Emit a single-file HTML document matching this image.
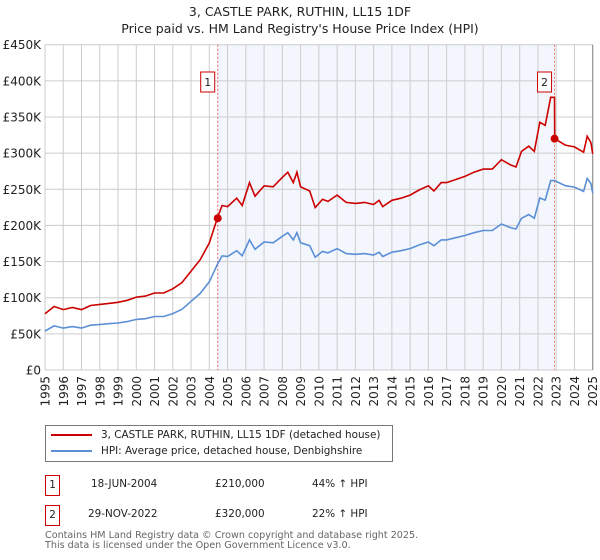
<!DOCTYPE html>
<html><head><meta charset="utf-8"><style>
body{margin:0;background:#fff;font-family:"DejaVu Sans","Liberation Sans",sans-serif;}
#wrap{position:relative;width:600px;height:560px;overflow:hidden}
</style></head><body><div id="wrap">
<svg id="c" width="600" height="560" style="position:absolute;left:0;top:0;font-family:'DejaVu Sans',sans-serif"></svg>
</div>
<script>
const hpiYears=[1995,1995.5,1996,1996.5,1997,1997.5,1998,1998.5,1999,1999.5,2000,2000.5,2001,2001.5,2002,2002.5,2003,2003.5,2004,2004.46,2004.7,2005,2005.5,2005.8,2006.2,2006.5,2007,2007.5,2008,2008.3,2008.6,2008.8,2009,2009.5,2009.8,2010.2,2010.5,2011,2011.5,2012,2012.5,2013,2013.3,2013.5,2014,2014.5,2015,2015.5,2016,2016.3,2016.7,2017,2017.5,2018,2018.5,2019,2019.5,2020,2020.5,2020.8,2021.1,2021.5,2021.8,2022.1,2022.4,2022.7,2022.91,2023.5,2024,2024.5,2024.7,2024.9,2025];
const hpiValues=[54,61,58,60,58,62,63,64,65,67,70,71,74,74,78,84,95,106,122,147,158,157,165,158,180,167,177,176,185,190,180,190,176,172,156,164,162,168,161,160,161,159,163,157,163,165,168,173,177,172,180,180,183,186,190,193,193,202,197,195,210,215,210,238,235,262,262,255,253,247,265,258,245];
const saleYears=[2004.46,2022.91];
const salePrices=[210,320];
const saleRatios=[1.44,1.22];
const yTicks=[0,50,100,150,200,250,300,350,400,450];
const yTickLabels=["£0","£50K","£100K","£150K","£200K","£250K","£300K","£350K","£400K","£450K"];
const xTicks=[1995,1996,1997,1998,1999,2000,2001,2002,2003,2004,2005,2006,2007,2008,2009,2010,2011,2012,2013,2014,2015,2016,2017,2018,2019,2020,2021,2022,2023,2024,2025];

const NS="http://www.w3.org/2000/svg",svg=document.getElementById('c');
const X0=45,X1=592.7,Y0=370,Y1=44.7;
const x=v=>X0+(v-1995)/30*(X1-X0);
const y=v=>Y0-v/450*(Y0-Y1);
function el(t,a,p){const e=document.createElementNS(NS,t);for(const k in a)e.setAttribute(k,a[k]);(p||svg).appendChild(e);return e;}
let e;
e=el('rect',{x:x(saleYears[0]),y:Y1,width:x(saleYears[1])-x(saleYears[0]),height:Y0-Y1,fill:'#f3f6fd'});

yTicks.forEach((t,i)=>{
 e=el('line',{x1:X0,x2:X1,y1:y(t),y2:y(t),stroke:'#ccc','stroke-width':1});
 
 e=el('text',{x:X0-4,y:y(t)+4.5,'text-anchor':'end','font-size':12,fill:'#222'});e.textContent=yTickLabels[i];
 
});
xTicks.forEach(t=>{
 e=el('line',{x1:x(t),x2:x(t),y1:Y1,y2:Y0,stroke:'#ccc','stroke-width':1});
 
 e=el('text',{x:0,y:0,'text-anchor':'end','font-size':12,fill:'#222',transform:`translate(${x(t)+4.5},${Y0+6}) rotate(-90)`});e.textContent=t;
 
});
e=el('line',{x1:X1,x2:X1,y1:Y1,y2:Y0,stroke:'#888','stroke-width':1});

saleYears.forEach((s,i)=>{
 e=el('line',{x1:x(s),x2:x(s),y1:Y1,y2:Y0,stroke:'#e66','stroke-width':1,'stroke-dasharray':'2,2'});
 
});
let d=hpiYears.map((yr,i)=>(i?'L':'M')+x(yr).toFixed(1)+','+y(hpiValues[i]).toFixed(1)).join('');
e=el('path',{d:d,fill:'none',stroke:'#5b8fd6','stroke-width':1.6});

let pts=[];
hpiYears.forEach((yr,i)=>{
 if(yr<saleYears[1]) pts.push([yr,hpiValues[i]*saleRatios[0]]);
 if(yr===saleYears[1]){pts.push([yr,hpiValues[i]*saleRatios[0]]);pts.push([yr+0.01,salePrices[1]]);}
 else if(yr>saleYears[1]) pts.push([yr,hpiValues[i]*saleRatios[1]]);
});
d=pts.map((p,i)=>(i?'L':'M')+x(p[0]).toFixed(1)+','+y(p[1]).toFixed(1)).join('');
e=el('path',{d:d,fill:'none',stroke:'#cc0000','stroke-width':1.6});

saleYears.forEach((s,i)=>{
 e=el('circle',{cx:x(s),cy:y(salePrices[i]),r:4,fill:'#cc0000'});
 
 e=el('rect',{x:x(s)-17,y:72,width:14,height:20,fill:'#fff',stroke:'#cc0000'});
 
 e=el('text',{x:x(s)-10,y:86,'text-anchor':'middle','font-size':11,fill:'#222'});e.textContent=String(i+1);
 
});
</script>
<div style="position:absolute;left:0;top:3px;width:600px;text-align:center;font-size:12.5px;line-height:17px;color:#222">3, CASTLE PARK, RUTHIN, LL15 1DF<br>Price paid vs. HM Land Registry's House Price Index (HPI)</div>
<div style="position:absolute;left:45px;top:425px;width:346px;height:35px;border:1px solid #777;font-size:10.4px;color:#222">
 <div style="position:absolute;left:5px;top:3px;white-space:nowrap"><span style="display:inline-block;width:41px;border-top:2px solid #cc0000;vertical-align:middle;margin-right:9px"></span>3, CASTLE PARK, RUTHIN, LL15 1DF (detached house)</div>
 <div style="position:absolute;left:5px;top:19px;white-space:nowrap"><span style="display:inline-block;width:41px;border-top:2px solid #5b8fd6;vertical-align:middle;margin-right:9px"></span>HPI: Average price, detached house, Denbighshire</div>
</div>
<div style="position:absolute;left:0;top:475px;font-size:10.4px;color:#222">
 <span style="position:absolute;left:45px;top:0;width:13px;height:19px;border:1px solid #cc0000;text-align:center;line-height:19px">1</span>
 <span style="position:absolute;left:91px;top:3px;white-space:nowrap">18-JUN-2004</span>
 <span style="position:absolute;left:215px;top:3px">£210,000</span>
 <span style="position:absolute;left:312px;top:3px;white-space:nowrap">44% ↑ HPI</span>
</div>
<div style="position:absolute;left:0;top:505px;font-size:10.4px;color:#222">
 <span style="position:absolute;left:45px;top:0;width:13px;height:19px;border:1px solid #cc0000;text-align:center;line-height:19px">2</span>
 <span style="position:absolute;left:88px;top:3px;white-space:nowrap">29-NOV-2022</span>
 <span style="position:absolute;left:215px;top:3px">£320,000</span>
 <span style="position:absolute;left:312px;top:3px;white-space:nowrap">22% ↑ HPI</span>
</div>
<div style="position:absolute;left:45px;top:531px;font-size:9.6px;line-height:10px;color:#666;white-space:nowrap">Contains HM Land Registry data © Crown copyright and database right 2025.<br>This data is licensed under the Open Government Licence v3.0.</div>
</body></html>
